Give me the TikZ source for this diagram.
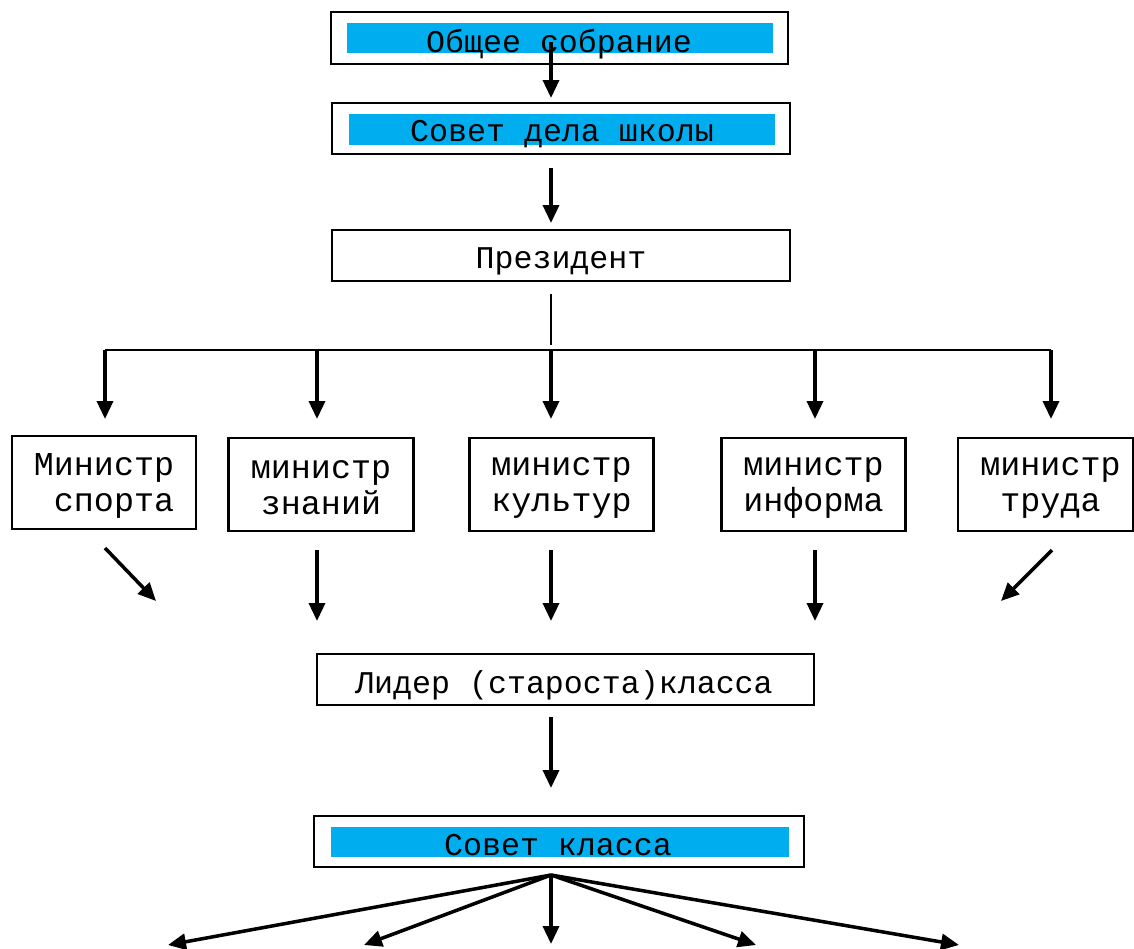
\documentclass[tikz,border=0pt]{standalone}
\usepackage{fontspec}
\setmainfont{Liberation Mono}
\usetikzlibrary{arrows.meta}
\definecolor{skyb}{RGB}{0,174,239}
\begin{document}
\begin{tikzpicture}[x=0.02cm,y=-0.02cm,
  box/.style={draw, line width=1.6pt, rectangle, inner sep=0pt},
  bigbox/.style={box, minimum width=9.16cm, minimum height=1.02cm},
  minbox/.style={box, minimum width=3.69cm, minimum height=1.86cm},
  band/.style={fill=skyb, inner sep=0pt, minimum height=0.61cm},
  lbl/.style={inner sep=0pt, anchor=base, font=\fontsize{18}{20}\selectfont},
  mlbl/.style={inner sep=0pt, align=center, font=\fontsize{19}{20.5}\selectfont},
  arr/.style={line width=2pt, -{Triangle[length=0.36cm, width=0.32cm]}},
  thin/.style={line width=0.9pt},
  link/.style={line width=1.6pt}]
\useasboundingbox (0,0) rectangle (1134,948);

% top boxes
\node[bigbox, minimum width=9.14cm, minimum height=1.04cm] (gen) at (559.5,38) {};
\node[band, minimum width=8.52cm] (genb) at (560,38) {};
\node[lbl] (gent) at (559,52) {Общее собрание};

\node[bigbox] (sds) at (561,128.5) {};
\node[band, minimum width=8.52cm] (sdsb) at (562,129.5) {};
\node[lbl] (sdst) at (562,141) {Совет дела школы};

\node[bigbox] (pres) at (561,255.5) {};
\node[lbl] (prest) at (561,268) {Президент};

% ministers
\node[minbox, minimum width=3.68cm] (m1) at (104,482.5) {};
\node[mlbl, align=left] (m1t) at (104,486) {Министр\\~спорта};
\node[minbox] (m2) at (321,484.5) {};
\node[mlbl] (m2t) at (321,488) {министр\\знаний};
\node[minbox] (m3) at (561.5,484.5) {};
\node[mlbl] (m3t) at (561.5,488) {министр\\культур};
\node[minbox] (m4) at (813.5,484.5) {};
\node[mlbl] (m4t) at (813.5,488) {министр\\информа};
\node[minbox, minimum width=3.50cm] (m5) at (1045.5,484.5) {};
\node[mlbl] (m5t) at (1050.5,488) {министр\\труда};

% leader
\node[box, minimum width=9.94cm, minimum height=1.02cm] (lead) at (565.5,679.5) {};
\node[lbl] (leadt) at (564,693) {Лидер (староста)класса};

% class council
\node[box, minimum width=9.80cm, minimum height=1.02cm] (cls) at (559,841.5) {};
\node[band, minimum width=9.16cm, minimum height=0.60cm] (clsb) at (560,842) {};
\node[lbl] (clst) at (558,855) {Совет класса};

% connector end points
\coordinate (g1) at (551,42);   \coordinate (g2) at (551,98);
\coordinate (s1) at (551,168);  \coordinate (s2) at (551,223);
\coordinate (p1) at (551,294);  \coordinate (p2) at (551,345);
\coordinate (hl) at (105,350);  \coordinate (hr) at (1051,350);
\coordinate (h1) at (105,350);  \coordinate (h2) at (317,350);
\coordinate (h3) at (551,350);  \coordinate (h4) at (815,350);
\coordinate (h5) at (1051,350);
\coordinate (d1) at (105,419);  \coordinate (d2) at (317,419);
\coordinate (d3) at (551,419);  \coordinate (d4) at (815,419);
\coordinate (d5) at (1051,419);
\coordinate (u1) at (105,548);  \coordinate (v1) at (156,601);
\coordinate (u2) at (317,550);  \coordinate (v2) at (317,621);
\coordinate (u3) at (551,550);  \coordinate (v3) at (551,621);
\coordinate (u4) at (815,550);  \coordinate (v4) at (815,621);
\coordinate (u5) at (1052,550); \coordinate (v5) at (1001,601);
\coordinate (l1) at (551,717);  \coordinate (l2) at (551,788);
\coordinate (c0) at (551,875);
\coordinate (e1) at (168,945);  \coordinate (e2) at (364,945);
\coordinate (e3) at (551,944);  \coordinate (e4) at (756,945);
\coordinate (e5) at (959,945);

\draw[arr] (g1) -- (g2);
\draw[arr] (s1) -- (s2);
\draw[thin] (p1) -- (p2);
\draw[link] (hl) -- (hr);
\foreach \i in {1,...,5} {\draw[arr] (h\i) -- (d\i);}
\foreach \i in {1,...,5} {\draw[arr] (u\i) -- (v\i);}
\draw[arr] (l1) -- (l2);
\foreach \i in {1,...,5} {\draw[arr] (c0) -- (e\i);}
\end{tikzpicture}
\end{document}
